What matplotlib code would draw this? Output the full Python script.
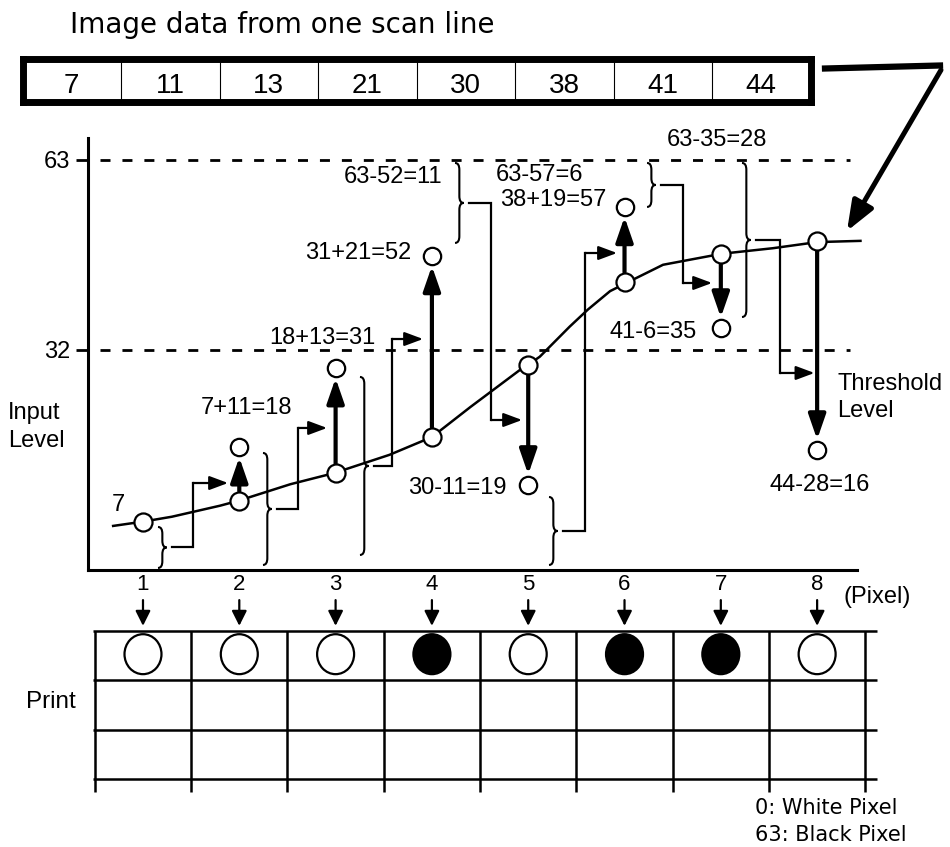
import matplotlib
matplotlib.use("Agg")
import matplotlib.pyplot as plt
from matplotlib.path import Path
from matplotlib.patches import PathPatch, Ellipse
from matplotlib.lines import Line2D

plt.rcParams['font.family'] = ['Liberation Sans', 'DejaVu Sans']

# 一条扫描线的图像数据
scan_values = [7, 11, 13, 21, 30, 38, 41, 44]
pixels = [1, 2, 3, 4, 5, 6, 7, 8]
threshold = 32
black_level = 63

# 误差扩散: 当前值 + 上一个像素的误差
sums = []
carry = 0
for v in scan_values:
    s = v + carry
    sums.append(s)
    carry = s - black_level if s >= threshold else s

sum_labels = ['7', '7+11=18', '18+13=31', '31+21=52', '30-11=19',
              '38+19=57', '41-6=35', '44-28=16']

# 图中各圆圈所在的高度(按图读出, 示意图不按比例)
curve_level = [4.0, 7.4, 11.9, 17.8, 29.6, 43.1, 47.7, 49.7]
result_level = [None, 16.2, 29.1, 47.4, 10.0, 55.4, 35.6, 15.7]

# 输入电平曲线
curve_x = [0.69, 1.0, 1.30, 1.80, 1.99, 2.53, 2.98, 3.56, 4.0, 4.40, 4.91, 5.0,
           5.12, 5.43, 5.62, 5.85, 6.04, 6.40, 7.01, 7.54, 8.0, 8.45]
curve_y = [3.3, 4.0, 4.8, 6.6, 7.4, 10.1, 11.9, 14.9, 17.8, 22.7, 28.7, 29.6,
           30.9, 35.8, 38.6, 41.6, 43.1, 45.9, 47.7, 48.6, 49.6, 49.8]

# 误差括号和传递箭头
brace_x = [1.156, 2.246, 3.253, 4.240, 5.216, 6.234, 7.220]
brace_lo = [-3.56, -3.07, -1.44, 49.46, -3.07, 55.33, 37.38]
brace_hi = [3.13, 15.20, 27.60, 62.51, 8.02, 62.51, 62.51]
turn_x = [1.519, 2.610, 3.586, 4.614, 5.590, 6.607, 7.615]
arrow_y = [10.30, 19.28, 33.79, 20.58, 47.82, 42.93, 28.25]
tip_x = [1.883, 2.911, 3.908, 4.936, 5.922, 6.909, 7.972]

fig = plt.figure(figsize=(9.5, 8.47), dpi=100)

# 主图
ax = fig.add_axes([88 / 950, (847 - 570) / 847, 769 / 950, 432 / 847])
ax.set_xlim(0.429, 8.414)
ax.set_ylim(-3.89, 66.58)
for side in ['top', 'right']:
    ax.spines[side].set_visible(False)
for side in ['left', 'bottom']:
    ax.spines[side].set_linewidth(2.2)
ax.set_yticks([threshold, black_level])
ax.set_xticks(pixels)
ax.tick_params(axis='y', length=8.6, width=2, pad=4, labelsize=17)
ax.tick_params(axis='x', length=0, pad=3, labelsize=16)
ax.set_facecolor('none')

for lvl in [threshold, black_level]:
    ax.plot([0.553, 8.34], [lvl, lvl], color='k', lw=2, dashes=(3.6, 4.3), zorder=1)

ax.plot(curve_x, curve_y, color='k', lw=1.8, zorder=2, clip_on=False)

# 粗箭头: 输入电平 -> 加上误差后的值
for i in range(1, 8):
    ax.annotate('', xy=(pixels[i], result_level[i]), xytext=(pixels[i], curve_level[i]),
                arrowprops=dict(arrowstyle='-|>,head_length=0.75,head_width=0.26',
                                mutation_scale=20, lw=3, color='k',
                                shrinkA=7, shrinkB=7.5), zorder=3)

ax.plot(pixels, curve_level, 'o', ms=13, mfc='white', mec='k', mew=1.6, zorder=5, clip_on=False)
ax.plot(pixels[1:], result_level[1:], 'o', ms=12.5, mfc='white', mec='k', mew=1.6, zorder=5,
        clip_on=False)


def brace(x, lo, hi, w=0.09, d=1.1):
    mid = (lo + hi) / 2
    xm = x + w / 2
    verts = [(x, hi), (xm, hi), (xm, hi - d), (xm, mid + d), (xm, mid), (x + w, mid),
             (xm, mid), (xm, mid - d), (xm, lo + d), (xm, lo), (x, lo)]
    codes = [Path.MOVETO, Path.CURVE3, Path.CURVE3, Path.LINETO, Path.CURVE3, Path.CURVE3,
             Path.CURVE3, Path.CURVE3, Path.LINETO, Path.CURVE3, Path.CURVE3]
    ax.add_patch(PathPatch(Path(verts, codes), fc='none', ec='k', lw=1.5, clip_on=False))
    return mid


for j in range(7):
    mid = brace(brace_x[j], brace_lo[j], brace_hi[j])
    x0 = brace_x[j] + 0.15
    ax.plot([x0, turn_x[j], turn_x[j]], [mid, mid, arrow_y[j]], color='k', lw=1.6,
            solid_joinstyle='miter', clip_on=False)
    ax.annotate('', xy=(tip_x[j], arrow_y[j]), xytext=(turn_x[j], arrow_y[j]),
                arrowprops=dict(arrowstyle='-|>,head_length=0.75,head_width=0.28',
                                mutation_scale=15, lw=1.6, color='k',
                                shrinkA=0, shrinkB=0))

# 文字标注
fs = 17
ax.text(0.74, 6.7, sum_labels[0], fontsize=fs, ha='center', va='center')
ax.text(2.07, 22.5, sum_labels[1], fontsize=fs, ha='center', va='center')
ax.text(2.86, 34.0, sum_labels[2], fontsize=fs, ha='center', va='center')
ax.text(3.79, 47.8, sum_labels[3], fontsize=fs, ha='right', va='center')
ax.text(4.78, 9.5, sum_labels[4], fontsize=fs, ha='right', va='center')
ax.text(4.71, 56.5, sum_labels[5], fontsize=fs, ha='left', va='center')
ax.text(6.75, 34.9, sum_labels[6], fontsize=fs, ha='right', va='center')
ax.text(8.03, 10.0, sum_labels[7], fontsize=fs, ha='center', va='center')

ax.text(4.105, 60.2, '{}-{}={}'.format(black_level, sums[3], black_level - sums[3]),
        fontsize=fs, ha='right', va='center')
ax.text(4.666, 60.55, '{}-{}={}'.format(black_level, sums[5], black_level - sums[5]),
        fontsize=fs, ha='left', va='center')
ax.text(6.44, 66.3, '{}-{}={}'.format(black_level, sums[6], black_level - sums[6]),
        fontsize=fs, ha='left', va='center')

ax.text(8.21, 26.5, 'Threshold', fontsize=fs, ha='left', va='center')
ax.text(8.21, 22.0, 'Level', fontsize=fs, ha='left', va='center')
ax.text(8.27, -8.3, '(Pixel)', fontsize=fs, ha='left', va='center')
fig.text(8 / 950, 1 - 413 / 847, 'Input', fontsize=fs, ha='left', va='center')
fig.text(8 / 950, 1 - 441 / 847, 'Level', fontsize=fs, ha='left', va='center')

# 像素下方的小箭头
for p in pixels:
    ax.annotate('', xy=(p, -13.0), xytext=(p, -8.8), annotation_clip=False,
                arrowprops=dict(arrowstyle='-|>,head_length=0.6,head_width=0.3',
                                mutation_scale=15, lw=1.6, color='k', shrinkA=0, shrinkB=0))

# 指向曲线的粗箭头
fig.add_artist(Line2D([825 / 950, 940 / 950], [1 - 68.5 / 847, 1 - 65.5 / 847], lw=4.5, color='k'))
ax.annotate('', xy=(8.31, 51.4), xycoords='data', xytext=(941 / 950, 1 - 70 / 847),
            textcoords='figure fraction', annotation_clip=False,
            arrowprops=dict(arrowstyle='-|>,head_length=0.9,head_width=0.35',
                            mutation_scale=20, lw=3.6, color='k', shrinkA=0, shrinkB=0))

# 顶部数据框
box = fig.add_axes([22.5 / 950, (847 - 102.5) / 847, 788 / 950, 43 / 847])
box.set_xlim(0, 8)
box.set_ylim(0, 1)
box.set_xticks([])
box.set_yticks([])
for s in box.spines.values():
    s.set_linewidth(5)
box.vlines(range(1, 8), 0, 1, color='k', lw=0.8)
for i, v in enumerate(scan_values):
    box.text(i + 0.5, 0.22, str(v), fontsize=20, ha='center', va='baseline')
fig.text(70 / 950, 1 - 33 / 847, 'Image data from one scan line', fontsize=20,
         family='DejaVu Sans', ha='left', va='baseline')

# 打印结果表格
tab = fig.add_axes([88 / 950, (847 - 779) / 847, 769 / 950, 148 / 847])
tab.set_xlim(0.429, 8.414)
tab.set_ylim(3, 0)
tab.axis('off')
tab.vlines([p - 0.5 for p in pixels] + [8.5], 0, 3.26, color='k', lw=1.8, clip_on=False)
tab.hlines([0, 1, 2, 3], 0.48, 8.62, color='k', lw=1.8, clip_on=False)
for p, s in zip(pixels, sums):
    fc = 'black' if s >= threshold else 'white'
    tab.add_patch(Ellipse((p, 0.47), 0.384, 0.81, fc=fc, ec='k', lw=1.6, clip_on=False))

fig.text(26 / 950, 1 - 702 / 847, 'Print', fontsize=17.5, ha='left', va='center')
fig.text(755 / 950, 1 - 808 / 847, '0: White Pixel', fontsize=15, family='DejaVu Sans',
         ha='left', va='center')
fig.text(755 / 950, 1 - 835 / 847, '63: Black Pixel', fontsize=15, family='DejaVu Sans',
         ha='left', va='center')

plt.savefig('out.png', dpi=100)
